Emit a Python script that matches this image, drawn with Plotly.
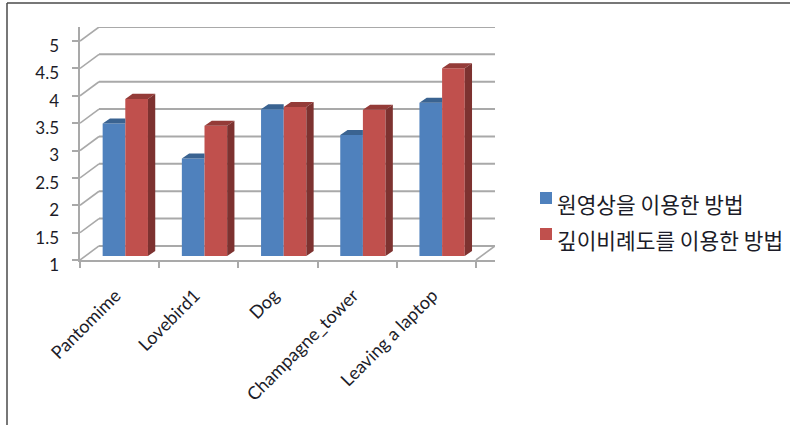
import plotly.graph_objects as go

categories = ["Pantomime", "Lovebird1", "Dog", "Champagne_tower", "Leaving a laptop"]
series_a_name = "원영상을 이용한 방법"
series_b_name = "깊이비례도를 이용한 방법"
series_a = [3.42, 2.78, 3.68, 3.21, 3.80]
series_b = [3.87, 3.38, 3.72, 3.67, 4.43]
y_ticks = [1, 1.5, 2, 2.5, 3, 3.5, 4, 4.5, 5]

WIDTH, HEIGHT = 790, 425
# The plot area runs below the floor line so the value labels can sit under their ticks.
LEFT, RIGHT, TOP, BOTTOM = 80, 295, 27, 155
FLOOR_PX = 260
plot_w = WIDTH - LEFT - RIGHT
plot_h = HEIGHT - TOP - BOTTOM
Y_DOMAIN_START = (HEIGHT - BOTTOM - FLOOR_PX) / plot_h

# Oblique projection: depth of the chart box in axis units.
WALL_DX, WALL_DY = 0.24, 0.256
X_MAX = len(categories) + WALL_DX
Y_MIN, Y_MAX = 1, 5 + WALL_DY
PX_PER_UNIT = (FLOOR_PX - TOP) / (Y_MAX - Y_MIN)
# Bars stand part-way into the box and have a shallower depth of their own.
BAR_SHIFT_X, BAR_SHIFT_Y = 0.072, 0.073
BAR_DX, BAR_DY = 0.092, 0.092
BAR_W = 0.286
# Value labels sit a few pixels under their ticks; category labels end slightly left of centre.
LABEL_DROP_PX = 5
CATEGORY_LABEL_SHIFT = 0.05

BLUE, RED = "#4F81BD", "#C0504D"
BLUE_TOP, RED_TOP = "#3A6391", "#943B38"
RED_SIDE = "#7D3230"
GRID = "#A9A9A9"
TEXT = "#1C1C28"


def px_x(px):
    return (px - LEFT) / plot_w


def px_y(px):
    return (HEIGHT - BOTTOM - px) / plot_h


def polygons(rings):
    xs, ys = [], []
    for ring in rings:
        xs += [p[0] for p in ring] + [ring[0][0], None]
        ys += [p[1] for p in ring] + [ring[0][1], None]
    return xs, ys


x_a = [i + 0.5 + BAR_SHIFT_X - BAR_W / 2 for i in range(len(categories))]
x_b = [i + 0.5 + BAR_SHIFT_X + BAR_W / 2 for i in range(len(categories))]
floor = Y_MIN + BAR_SHIFT_Y

fig = go.Figure()
for name, xs, vals, colour in [(series_a_name, x_a, series_a, BLUE), (series_b_name, x_b, series_b, RED)]:
    fig.add_trace(go.Bar(
        name=name, x=xs, y=[v - Y_MIN for v in vals], base=floor, width=BAR_W,
        marker=dict(color=colour, line=dict(width=0)), showlegend=False,
    ))

# Top and side faces; the part of a blue top behind a taller red bar is left out.
blue_tops, red_tops, red_sides = [], [], []
for xa, xb, a, b in zip(x_a, x_b, series_a, series_b):
    ya, yb = a - Y_MIN + floor, b - Y_MIN + floor
    l, m, r = xa - BAR_W / 2, xa + BAR_W / 2, xb + BAR_W / 2
    blue_tops.append([(l, ya), (l + BAR_DX, ya + BAR_DY), (m, ya + BAR_DY), (m, ya)])
    red_tops.append([(m, yb), (m + BAR_DX, yb + BAR_DY), (r + BAR_DX, yb + BAR_DY), (r, yb)])
    red_sides.append([(r, floor), (r + BAR_DX, floor + BAR_DY), (r + BAR_DX, yb + BAR_DY), (r, yb)])

for rings, colour in [(blue_tops, BLUE_TOP), (red_tops, RED_TOP), (red_sides, RED_SIDE)]:
    xs, ys = polygons(rings)
    fig.add_trace(go.Scatter(
        x=xs, y=ys, mode="lines", fill="toself", fillcolor=colour,
        line=dict(width=0), hoverinfo="skip", showlegend=False,
    ))

# Empty trace that keeps the label-carrying axis on the page.
fig.add_trace(go.Scatter(x=[None], y=[None], yaxis="y2", hoverinfo="skip", showlegend=False))

# Back wall and floor lines of the box.
shapes = []
for v in y_ticks:
    shapes.append(dict(type="line", xref="x", yref="y", x0=0, y0=v, x1=WALL_DX, y1=v + WALL_DY,
                       line=dict(color=GRID, width=1.6), layer="below"))
    shapes.append(dict(type="line", xref="x", yref="y", x0=WALL_DX, y0=v + WALL_DY, x1=X_MAX, y1=v + WALL_DY,
                       line=dict(color=GRID, width=2), layer="below"))
shapes.append(dict(type="line", xref="x", yref="y", x0=len(categories), y0=Y_MIN, x1=X_MAX, y1=Y_MIN + WALL_DY,
                   line=dict(color=GRID, width=1.6), layer="below"))

# Frame along the top and left edges of the page.
frame = "#4A4A4A"
shapes.append(dict(type="line", xref="paper", yref="paper", x0=px_x(7), y0=px_y(3), x1=px_x(790), y1=px_y(3),
                   line=dict(color=frame, width=1.5)))
shapes.append(dict(type="line", xref="paper", yref="paper", x0=px_x(7), y0=px_y(3), x1=px_x(7), y1=px_y(425),
                   line=dict(color=frame, width=1.5)))

# Key on the right-hand side.
annotations = []
for name, colour, cy in [(series_a_name, BLUE, 198), (series_b_name, RED, 234)]:
    shapes.append(dict(type="rect", xref="paper", yref="paper", x0=px_x(540), x1=px_x(552),
                       y0=px_y(cy - 6), y1=px_y(cy + 6), fillcolor=colour, line=dict(width=0)))
    annotations.append(dict(xref="paper", yref="paper", x=px_x(555), y=px_y(cy + 5), xanchor="left", yanchor="middle",
                            text=name, showarrow=False, align="left",
                            font=dict(family="Noto Sans CJK KR", size=21.4, color=TEXT)))

label_offset = LABEL_DROP_PX / PX_PER_UNIT
label_bottom = Y_MIN - (HEIGHT - BOTTOM - FLOOR_PX) / PX_PER_UNIT + label_offset

fig.update_layout(
    width=WIDTH, height=HEIGHT, autosize=False,
    margin=dict(l=LEFT, r=RIGHT, t=TOP, b=BOTTOM, pad=0),
    paper_bgcolor="white", plot_bgcolor="rgba(0,0,0,0)",
    barmode="overlay", shapes=shapes, annotations=annotations, showlegend=False,
    font=dict(family="Lato", color=TEXT, size=14),
    xaxis=dict(
        range=[0, X_MAX], showgrid=False, zeroline=False, showline=True, linecolor=GRID, linewidth=2,
        anchor="y", tickmode="array",
        tickvals=[i + 0.5 - CATEGORY_LABEL_SHIFT for i in range(len(categories))], ticktext=categories,
        ticks="", tickangle=-45, tickfont=dict(family="Lato", size=18, color=TEXT), ticklabelstandoff=16,
        minor=dict(tickmode="array", tickvals=list(range(len(categories) + 1)), ticks="outside",
                   ticklen=6, tickcolor=GRID, tickwidth=1.5, showgrid=False),
    ),
    yaxis=dict(
        domain=[Y_DOMAIN_START, 1],
        range=[Y_MIN, Y_MAX], showgrid=False, zeroline=False, showline=True, linecolor=GRID, linewidth=2,
        tickmode="array", tickvals=y_ticks, showticklabels=False,
        ticks="outside", ticklen=6, tickcolor=GRID, tickwidth=1.5,
    ),
    yaxis2=dict(
        domain=[0, 1], anchor="x", side="left",
        range=[label_bottom, Y_MAX + label_offset], showgrid=False, zeroline=False, showline=False,
        tickmode="array", tickvals=y_ticks, ticktext=[f"{v:g}" for v in y_ticks], ticks="",
        tickfont=dict(family="Lato", size=17, color=TEXT), ticklabelstandoff=20,
    ),
)

fig.write_html("out.html")
